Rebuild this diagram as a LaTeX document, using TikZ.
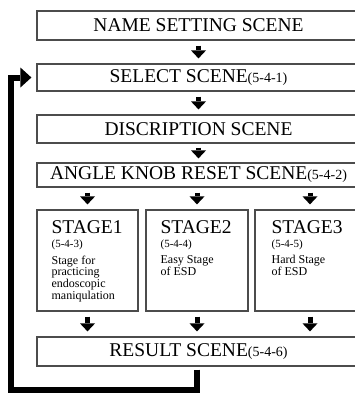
\documentclass[tikz,border=0pt]{standalone}
\usepackage{fontspec}
\setmainfont{Liberation Serif}
\usetikzlibrary{positioning,arrows.meta}

\newcommand{\secref}[1]{{\fontsize{14}{14}\selectfont(#1)}}

\begin{document}
\begin{tikzpicture}[x=1pt, y=-1pt,
  scene/.style={rectangle, draw=black!70, line width=1.2pt, minimum width=323pt, inner sep=0pt, text=black, font=\fontsize{19.5}{20}\selectfont},
  stagebox/.style={rectangle, draw=black!70, line width=1.2pt, minimum height=101pt, inner sep=0pt},
  stagetitle/.style={anchor=base west, inner sep=0pt, text=black, font=\fontsize{19.5}{20}\selectfont},
  stagenum/.style={anchor=base west, inner sep=0pt, text=black, font=\fontsize{11}{11}\selectfont},
  stagedesc/.style={anchor=north west, inner sep=0pt, align=left, text=black, font=\fontsize{12}{10}\selectfont},
  flow/.style={line width=5pt, -{Triangle[width=15pt,length=8pt,line width=0pt]}, shorten <=5pt, shorten >=5pt},
  backline/.style={line width=6pt, line join=miter, -{Triangle[width=20pt,length=11pt,line width=0pt]}, shorten <=3pt, shorten >=5pt}
]
  \useasboundingbox (0,0) rectangle (354,394);

  % scenes
  \node[scene, minimum height=29pt] (name) at (198.5,25.5) {NAME SETTING SCENE};
  \node[scene, minimum height=27pt] (select) at (198.5,77.5) {SELECT SCENE\secref{5-4-1}};
  \node[scene, minimum height=28pt] (disc) at (198.5,129) {DISCRIPTION SCENE};
  \node[scene, minimum height=24pt] (angle) at (198.5,175) {ANGLE KNOB RESET SCENE\secref{5-4-2}};

  % stages
  \node[stagebox, minimum width=101pt] (stage1) at (87.5,260.5) {};
  \node[stagebox, minimum width=102pt] (stage2) at (197,260.5) {};
  \node[stagebox, minimum width=110pt] (stage3) at (310,260.5) {};

  \node[stagetitle] (s1title) at ([shift={(15,24)}]stage1.north west) {STAGE1};
  \node[stagenum] (s1num) at ([shift={(15,38)}]stage1.north west) {(5-4-3)};
  \node[stagedesc] (s1desc) at ([shift={(15,46)}]stage1.north west) {Stage for\\practicing\\endoscopic\\maniqulation};

  \node[stagetitle] (s2title) at ([shift={(15,24)}]stage2.north west) {STAGE2};
  \node[stagenum] (s2num) at ([shift={(15,38)}]stage2.north west) {(5-4-4)};
  \node[stagedesc] (s2desc) at ([shift={(15,46)}]stage2.north west) {Easy Stage\\of ESD};

  \node[stagetitle] (s3title) at ([shift={(17,24)}]stage3.north west) {STAGE3};
  \node[stagenum] (s3num) at ([shift={(17,38)}]stage3.north west) {(5-4-5)};
  \node[stagedesc] (s3desc) at ([shift={(17,46)}]stage3.north west) {Hard Stage\\of ESD};

  \node[scene, minimum height=29pt] (result) at (198.5,351.5) {RESULT SCENE\secref{5-4-6}};

  % arrows
  \draw[flow] (name) -- (select);
  \draw[flow] (select) -- (disc);
  \draw[flow, shorten <=4pt, shorten >=4pt] (disc) -- (angle);
  \draw[flow] (stage1.north |- angle.south) -- (stage1.north);
  \draw[flow] (stage2.north |- angle.south) -- (stage2.north);
  \draw[flow] (stage3.north |- angle.south) -- (stage3.north);
  \draw[flow] (stage1.south) -- (stage1.south |- result.north);
  \draw[flow] (stage2.south) -- (stage2.south |- result.north);
  \draw[flow] (stage3.south) -- (stage3.south |- result.north);

  % back to select
  \coordinate (back) at (11,390);
  \draw[backline] ([xshift=-2pt]result.south) |- (back) |- (select.west);
\end{tikzpicture}
\end{document}
